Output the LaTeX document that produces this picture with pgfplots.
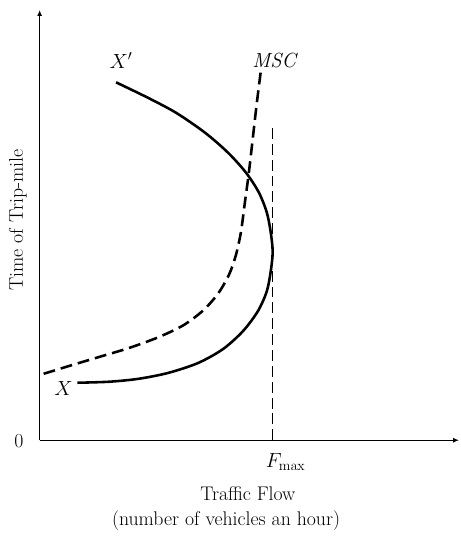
\documentclass[border=0pt]{standalone}
\usepackage{pgfplots}
\pgfplotsset{compat=1.18}
\usetikzlibrary{arrows.meta}

\begin{document}
\fontsize{20}{24}\selectfont
\begin{tikzpicture}
\begin{axis}[
  scale only axis, width=423bp, height=434bp,
  xmin=0, xmax=423, ymin=0, ymax=434,
  axis lines=left,
  axis line style={line width=1.3pt, -{Latex[length=6pt,width=5pt]}},
  xtick=\empty, ytick=\empty,
  clip=false,
]
% solid curve X -> X'
\addplot[black, line width=2.6pt, smooth] coordinates {
  (38,58) (70,59) (100,62) (130,68) (160,78) (185,92) (205,110)
  (220,130) (229,150) (233,170) (235,190) (233,210) (229,230)
  (221,250) (208,270) (190,290) (167,310) (138,330) (110,345) (77,361)
};
% MSC
\addplot[black, line width=2.6pt, dash pattern=on 12bp off 6bp, smooth] coordinates {
  (4,67) (30,75) (60,84) (90,93) (120,104) (145,116) (165,131)
  (180,148) (191,167) (198,187) (203,210) (207,240) (211,270)
  (215,305) (219,340) (223,372)
};
% F max
\addplot[black, line width=1.3pt, dash pattern=on 11bp off 5bp] coordinates {(235,0) (235,319)};

\node at (axis cs:82,383) {$X'$};
\node at (axis cs:238,383) {$\mathit{MSC}$};
\node at (axis cs:24,52) {$X$};
\node[anchor=base west, inner sep=0pt] at (axis cs:228,-27) {$F_{\mathrm{\scriptstyle max}}$};
\node at (axis cs:-21,-1) {0};
\node[rotate=90] at (axis cs:-22,222) {Time of Trip-mile};
\node at (axis cs:210,-54) {Traffic Flow};
\node at (axis cs:188,-81) {(number of vehicles an hour)};
\path (axis cs:-40,-93) rectangle (axis cs:424,444);
\end{axis}
\end{tikzpicture}
\end{document}
